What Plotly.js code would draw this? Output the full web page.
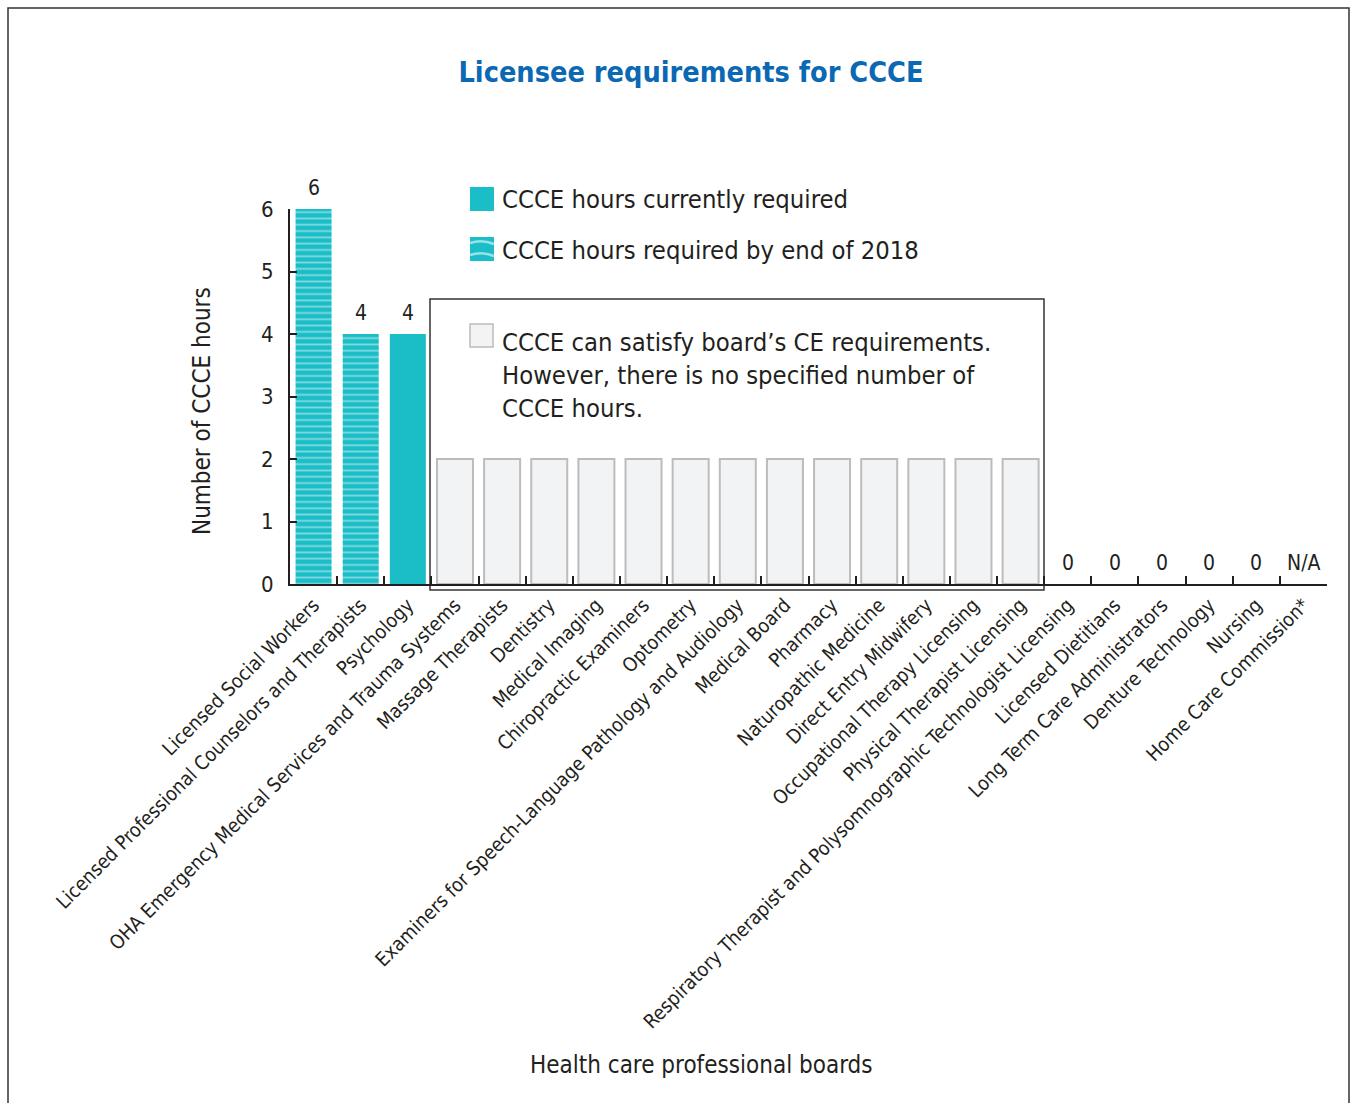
<!DOCTYPE html>
<html>
<head>
<meta charset="utf-8">
<script src="https://cdn.plot.ly/plotly-3.0.1.min.js"></script>
<style>
html,body{margin:0;padding:0;background:#fff;}
#chart{width:1357px;height:1103px;}
</style>
</head>
<body>
<div id="chart"></div>
<script>
// ---- data ----
var boards = [
  "Licensed Social Workers",
  "Licensed Professional Counselors and Therapists",
  "Psychology",
  "OHA Emergency Medical Services and Trauma Systems",
  "Massage Therapists",
  "Dentistry",
  "Medical Imaging",
  "Chiropractic Examiners",
  "Optometry",
  "Examiners for Speech-Language Pathology and Audiology",
  "Medical Board",
  "Pharmacy",
  "Naturopathic Medicine",
  "Direct Entry Midwifery",
  "Occupational Therapy Licensing",
  "Physical Therapist Licensing",
  "Respiratory Therapist and Polysomnographic Technologist Licensing",
  "Licensed Dietitians",
  "Long Term Care Administrators",
  "Denture Technology",
  "Nursing",
  "Home Care Commission*"
];

var currentBoards = ["Psychology"];
var currentHours = [4];

var boards2018 = ["Licensed Social Workers", "Licensed Professional Counselors and Therapists"];
var hours2018 = [6, 4];

var unspecifiedBoards = boards.slice(3, 16);
var unspecifiedHeight = [2,2,2,2,2,2,2,2,2,2,2,2,2];

var zeroBoards = boards.slice(16, 21);
var zeroHours = [0,0,0,0,0];

var naBoards = ["Home Care Commission*"];
var naLabels = ["N/A"];

var legendNames = [
  "CCCE hours currently required",
  "CCCE hours required by end of 2018",
  "CCCE can satisfy board\u2019s CE requirements.<br>However, there is no specified number of<br>CCCE hours."
];

var labelBoards = boards2018.concat(currentBoards, zeroBoards, naBoards);
var labelValues = hours2018.concat(currentHours, zeroHours, [0]);
var labelTexts = hours2018.concat(currentHours, zeroHours).map(String).concat(naLabels);

// ---- styling ----
var FONT = "'DejaVu Sans Condensed', 'Liberation Sans Narrow', 'Arial Narrow', sans-serif";
var TEAL = "#1bbdc7";
var GRAYFILL = "#f2f3f5";
var GRAYLINE = "#bcbcbc";
var TXT = "#231f20";

// plot area in pixels: x 290..1327, y 584 (bottom) .. 209 (top)
function px(x) { return (x - 290) / 1037; }
function py(y) { return (584 - y) / 375; }

var traces = [
  {
    type: "bar", name: legendNames[0], showlegend: false,
    x: currentBoards, y: currentHours,
    marker: {color: TEAL, line: {width: 0}}, hoverinfo: "x+y"
  },
  {
    type: "bar", name: legendNames[1], showlegend: false,
    x: boards2018, y: hours2018,
    marker: {color: TEAL, line: {width: 0},
      pattern: {shape: "-", fillmode: "overlay", bgcolor: TEAL, fgcolor: "#ffffff",
                fgopacity: 0.45, size: 6.3, solidity: 0.28}},
    hoverinfo: "x+y"
  },
  {
    type: "bar", name: legendNames[2], showlegend: false,
    x: unspecifiedBoards, y: unspecifiedHeight,
    marker: {color: GRAYFILL, line: {color: GRAYLINE, width: 2}}, hoverinfo: "x"
  },
  // legend-only entries (swatches drawn as shapes)
  {type: "scatter", mode: "markers", x: [null], y: [null], name: legendNames[0],
   marker: {color: "rgba(0,0,0,0)", size: 1}, legend: "legend", hoverinfo: "skip"},
  {type: "scatter", mode: "markers", x: [null], y: [null], name: legendNames[1],
   marker: {color: "rgba(0,0,0,0)", size: 1}, legend: "legend3", hoverinfo: "skip"},
  {type: "scatter", mode: "markers", x: [null], y: [null], name: legendNames[2],
   marker: {color: "rgba(0,0,0,0)", size: 1}, legend: "legend2", hoverinfo: "skip"}
];

var valueAnnotations = labelBoards.map(function (b, i) {
  return {x: b, y: labelValues[i], xref: "x", yref: "y", text: labelTexts[i],
    showarrow: false, yshift: 21, xanchor: "center", yanchor: "middle",
    font: {family: FONT, size: 21, color: TXT}};
});

var legendFont = {family: FONT, size: 25.4, color: TXT};

var layout = {
  width: 1357, height: 1103,
  paper_bgcolor: "#ffffff", plot_bgcolor: "#ffffff",
  margin: {l: 290, r: 30, t: 209, b: 519, pad: 0},
  font: {family: FONT, color: TXT},
  barmode: "overlay",
  bargap: 0.236,
  title: {
    text: "<b>Licensee requirements for CCCE</b>",
    font: {family: FONT, size: 28.6, color: "#0b68b3"},
    x: 691 / 1357, xref: "container", xanchor: "center",
    y: 1 - 72 / 1103, yref: "container", yanchor: "middle"
  },
  xaxis: {
    type: "category", categoryorder: "array", categoryarray: boards,
    range: [-0.5, 21.5],
    showline: true, linecolor: TXT, linewidth: 2,
    ticks: "inside", tickson: "boundaries", ticklen: 8, tickwidth: 2, tickcolor: TXT,
    tickangle: -45, tickfont: {family: FONT, size: 19.6, color: TXT},
    showgrid: false, zeroline: false, automargin: false
  },
  yaxis: {
    range: [0, 6], tickvals: [0,1,2,3,4,5,6],
    showline: true, linecolor: TXT, linewidth: 2,
    ticks: "inside", ticklen: 7, tickwidth: 2, tickcolor: TXT,
    tickfont: {family: FONT, size: 22, color: TXT},
    ticklabelstandoff: 10,
    showgrid: false, zeroline: false, automargin: false
  },
  legend: {
    x: px(462), y: py(199), xanchor: "left", yanchor: "middle",
    bgcolor: "rgba(0,0,0,0)", borderwidth: 0, font: legendFont, itemwidth: 30
  },
  legend3: {
    x: px(462), y: py(250), xanchor: "left", yanchor: "middle",
    bgcolor: "rgba(0,0,0,0)", borderwidth: 0, font: legendFont, itemwidth: 30
  },
  legend2: {
    x: px(462), y: py(375), xanchor: "left", yanchor: "middle",
    bgcolor: "rgba(0,0,0,0)", borderwidth: 0, font: legendFont, itemwidth: 30, valign: "top"
  },
  shapes: [
    // box around the "no specified number" group
    {type: "rect", xref: "paper", yref: "paper",
     x0: px(430), x1: px(1044), y0: py(590), y1: py(299),
     line: {color: "#333333", width: 1.5}, fillcolor: "rgba(0,0,0,0)", layer: "below"},
    // outer frame
    {type: "rect", xref: "paper", yref: "paper",
     x0: px(8), x1: px(1349), y0: py(1120), y1: py(8),
     line: {color: "#333333", width: 1.5}, fillcolor: "rgba(0,0,0,0)", layer: "below"},
    // legend swatches
    {type: "rect", xref: "paper", yref: "paper",
     x0: px(470), x1: px(494), y0: py(211), y1: py(187),
     line: {width: 0}, fillcolor: TEAL},
    {type: "rect", xref: "paper", yref: "paper",
     x0: px(470), x1: px(494), y0: py(261), y1: py(237),
     line: {width: 0}, fillcolor: TEAL},
    {type: "path", xref: "paper", yref: "paper",
     path: "M" + px(470) + "," + py(243) + " Q" + px(482) + "," + py(239) + " " + px(494) + "," + py(244),
     line: {color: "rgba(255,255,255,0.55)", width: 2.5}},
    {type: "path", xref: "paper", yref: "paper",
     path: "M" + px(470) + "," + py(255) + " Q" + px(482) + "," + py(251) + " " + px(494) + "," + py(256),
     line: {color: "rgba(255,255,255,0.55)", width: 2.5}},
    {type: "rect", xref: "paper", yref: "paper",
     x0: px(470), x1: px(493), y0: py(347), y1: py(324),
     line: {color: GRAYLINE, width: 1.5}, fillcolor: GRAYFILL}
  ],
  annotations: [
    {text: "Number of CCCE hours", xref: "paper", yref: "paper",
     x: px(202), y: py(411), textangle: -90,
     showarrow: false, xanchor: "center", yanchor: "middle",
     font: {family: FONT, size: 24, color: TXT}},
    {text: "Health care professional boards", xref: "paper", yref: "paper",
     x: px(701), y: py(1065),
     showarrow: false, xanchor: "center", yanchor: "middle",
     font: {family: FONT, size: 24, color: TXT}}
  ].concat(valueAnnotations),
  showlegend: true
};

Plotly.newPlot("chart", traces, layout, {displayModeBar: false, staticPlot: true});
</script>
</body>
</html>
